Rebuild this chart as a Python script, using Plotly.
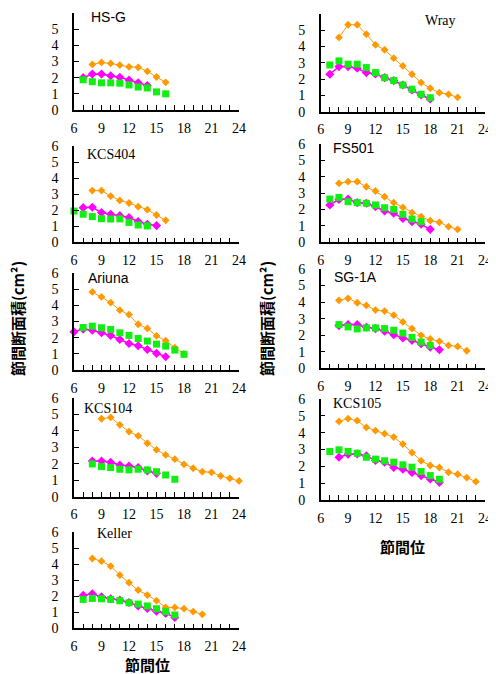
import plotly.graph_objects as go

# ---------------- data (節間位 start + 節間断面積 values) ----------------
X_TICK_VALS = [6, 9, 12, 15, 18, 21, 24]
X_TICK_TEXT = ["6", "9", "12", "15", "18", "21", "24"]
Y_TICK_VALS = [0, 1, 2, 3, 4, 5, 6]

PANEL_NAMES = ["HS-G", "KCS404", "Ariuna", "KCS104", "Keller",
               "Wray", "FS501", "SG-1A", "KCS105"]

hsg_orange_start = 8
hsg_orange = [2.82, 2.94, 2.88, 2.78, 2.67, 2.64, 2.39, 2.04, 1.71]
hsg_magenta_start = 7
hsg_magenta = [2.0, 2.22, 2.22, 2.12, 2.02, 1.85, 1.69, 1.52]
hsg_green_start = 7
hsg_green = [1.87, 1.75, 1.68, 1.68, 1.66, 1.55, 1.42, 1.36, 1.12, 1.0]

kcs404_orange_start = 8
kcs404_orange = [3.22, 3.22, 2.88, 2.61, 2.45, 2.22, 2.03, 1.70, 1.37]
kcs404_magenta_start = 7
kcs404_magenta = [2.16, 2.18, 1.85, 1.74, 1.66, 1.54, 1.29, 1.12, 1.04]
kcs404_green_start = 6
kcs404_green = [1.95, 1.75, 1.60, 1.47, 1.45, 1.46, 1.24, 1.08, 1.02]

ariuna_orange_start = 8
ariuna_orange = [4.83, 4.52, 4.17, 3.70, 3.43, 2.83, 2.57, 2.11, 1.81, 1.38, 0.99]
ariuna_magenta_start = 6
ariuna_magenta = [2.36, 2.53, 2.46, 2.30, 2.14, 1.89, 1.64, 1.50, 1.27, 1.03, 0.82]
ariuna_green_start = 7
ariuna_green = [2.63, 2.71, 2.61, 2.51, 2.30, 2.14, 1.95, 1.79, 1.60, 1.48, 1.23, 0.97]

kcs104_orange_start = 9
kcs104_orange = [4.74, 4.82, 4.37, 3.96, 3.70, 3.25, 2.85, 2.54, 2.28, 1.97,
                 1.73, 1.52, 1.48, 1.26, 1.12, 0.96]
kcs104_magenta_start = 8
kcs104_magenta = [2.17, 2.17, 2.09, 1.93, 1.87, 1.77, 1.57, 1.42]
kcs104_green_start = 8
kcs104_green = [1.99, 1.83, 1.77, 1.67, 1.63, 1.67, 1.63, 1.52, 1.32, 1.06]

keller_orange_start = 8
keller_orange = [4.35, 4.18, 3.87, 3.31, 2.84, 2.38, 2.07, 1.72, 1.30, 1.30, 1.22, 1.04, 0.87]
keller_magenta_start = 7
keller_magenta = [2.05, 2.15, 1.97, 1.84, 1.76, 1.61, 1.39, 1.24, 1.06, 0.93, 0.68]
keller_green_start = 7
keller_green = [1.80, 1.86, 1.84, 1.80, 1.72, 1.59, 1.51, 1.39, 1.22, 1.04, 0.83]

wray_orange_start = 8
wray_orange = [4.56, 5.34, 5.34, 4.76, 4.11, 3.80, 3.29, 2.81, 2.30, 1.79, 1.44, 1.17, 1.07, 0.88]
wray_magenta_start = 7
wray_magenta = [2.30, 2.77, 2.77, 2.67, 2.40, 2.32, 2.09, 1.91, 1.64, 1.33, 1.03, 0.78]
wray_green_start = 7
wray_green = [2.87, 3.12, 2.92, 2.92, 2.71, 2.40, 2.09, 1.91, 1.64, 1.38, 1.07, 0.86]

fs501_orange_start = 8
fs501_orange = [3.60, 3.70, 3.70, 3.39, 3.13, 2.78, 2.42, 2.13, 1.81, 1.57, 1.32, 1.22, 0.96, 0.79]
fs501_magenta_start = 7
fs501_magenta = [2.28, 2.62, 2.64, 2.42, 2.38, 2.17, 1.91, 1.77, 1.46, 1.26, 1.10, 0.79]
fs501_green_start = 7
fs501_green = [2.64, 2.74, 2.48, 2.42, 2.38, 2.28, 2.11, 2.01, 1.71, 1.42, 1.26]

sg1a_orange_start = 8
sg1a_orange = [4.11, 4.23, 3.96, 3.80, 3.52, 3.46, 3.21, 2.80, 2.40, 1.99,
               1.77, 1.63, 1.38, 1.32, 1.06]
sg1a_magenta_start = 8
sg1a_magenta = [2.58, 2.64, 2.64, 2.48, 2.40, 2.24, 2.03, 1.83, 1.69, 1.48, 1.28, 1.12]
sg1a_green_start = 8
sg1a_green = [2.64, 2.50, 2.38, 2.44, 2.44, 2.40, 2.30, 2.13, 1.87, 1.59, 1.38]

kcs105_orange_start = 8
kcs105_orange = [4.67, 4.83, 4.71, 4.31, 4.12, 3.94, 3.74, 3.32, 2.82, 2.33,
                 2.05, 1.93, 1.65, 1.53, 1.33, 1.09]
kcs105_magenta_start = 8
kcs105_magenta = [2.54, 2.72, 2.74, 2.62, 2.35, 2.25, 1.93, 1.83, 1.63, 1.45, 1.25, 1.05]
kcs105_green_start = 7
kcs105_green = [2.88, 2.98, 2.88, 2.78, 2.54, 2.43, 2.33, 2.25, 2.09, 1.95, 1.69, 1.45, 1.23]

SERIES = {
    "HS-G": [(hsg_orange_start, hsg_orange), (hsg_magenta_start, hsg_magenta), (hsg_green_start, hsg_green)],
    "KCS404": [(kcs404_orange_start, kcs404_orange), (kcs404_magenta_start, kcs404_magenta), (kcs404_green_start, kcs404_green)],
    "Ariuna": [(ariuna_orange_start, ariuna_orange), (ariuna_magenta_start, ariuna_magenta), (ariuna_green_start, ariuna_green)],
    "KCS104": [(kcs104_orange_start, kcs104_orange), (kcs104_magenta_start, kcs104_magenta), (kcs104_green_start, kcs104_green)],
    "Keller": [(keller_orange_start, keller_orange), (keller_magenta_start, keller_magenta), (keller_green_start, keller_green)],
    "Wray": [(wray_orange_start, wray_orange), (wray_magenta_start, wray_magenta), (wray_green_start, wray_green)],
    "FS501": [(fs501_orange_start, fs501_orange), (fs501_magenta_start, fs501_magenta), (fs501_green_start, fs501_green)],
    "SG-1A": [(sg1a_orange_start, sg1a_orange), (sg1a_magenta_start, sg1a_magenta), (sg1a_green_start, sg1a_green)],
    "KCS105": [(kcs105_orange_start, kcs105_orange), (kcs105_magenta_start, kcs105_magenta), (kcs105_green_start, kcs105_green)],
}

# ---------------- layout / style ----------------
# The page body adds an 8px margin, so the figure is drawn 8px smaller and
# all pixel targets are shifted by that offset.
OFF = 8
W, H = 496 - OFF, 674 - OFF
ORANGE, MAGENTA, GREEN = "#FF9900", "#FF00FF", "#11EE11"
SERIF = "Liberation Serif"
SANS = "Liberation Sans"
CJK = "Noto Sans CJK JP"


def px_x(px):
    return (px - OFF) / W


def px_y(py):
    return 1 - (py - OFF) / H


LEFT_X = (74, 239)
RIGHT_X = (320.7, 485)
# (x pixel span, y bottom px, y top px, label x px, label y px, label anchor, label font)
GEOM = {
    "HS-G":   (LEFT_X, 110.0, 13.0, 89, 17, "left", SANS),
    "KCS404": (LEFT_X, 242.3, 146.0, 85, 155, "left", SERIF),
    "Ariuna": (LEFT_X, 370.0, 273.0, 86, 278, "left", SANS),
    "KCS104": (LEFT_X, 496.7, 398.0, 82, 408, "left", SERIF),
    "Keller": (LEFT_X, 628.3, 532.0, 95, 533, "left", SERIF),
    "Wray":   (RIGHT_X, 111.7, 14.0, 458, 21, "right", SERIF),
    "FS501":  (RIGHT_X, 242.3, 144.0, 331, 148, "left", SANS),
    "SG-1A":  (RIGHT_X, 368.3, 269.0, 332, 277, "left", SANS),
    "KCS105": (RIGHT_X, 500.0, 399.0, 331, 403, "left", SERIF),
}

fig = go.Figure()
layout = dict(
    width=W, height=H,
    margin=dict(l=0, r=0, t=0, b=0, autoexpand=False),
    paper_bgcolor="white", plot_bgcolor="white",
    showlegend=False,
    annotations=[],
)

styles = [
    dict(color=ORANGE, symbol="diamond", size=6, mode="lines+markers", lw=1.0),
    dict(color=MAGENTA, symbol="diamond", size=7, mode="lines+markers", lw=1.6),
    dict(color=GREEN, symbol="square", size=7, mode="markers", lw=0),
]

for i, name in enumerate(PANEL_NAMES):
    idx = i + 1
    xs = "" if idx == 1 else str(idx)
    (x0, x1), yb, yt, lx, ly, lanchor, lfont = GEOM[name]
    xd = [px_x(x0), px_x(x1)]
    yd = [px_y(yb), px_y(yt)]
    layout["xaxis" + xs] = dict(
        domain=xd, anchor="y" + xs, range=[6, 24], automargin=False,
        tickmode="array", tickvals=X_TICK_VALS, ticktext=X_TICK_TEXT,
        ticks="inside", ticklen=5, tickwidth=1.2, tickcolor="black",
        minor=dict(dtick=1, ticks="inside", ticklen=5, tickwidth=1.2, tickcolor="black"),
        showline=True, linecolor="black", linewidth=1.5,
        showgrid=False, zeroline=False,
        tickfont=dict(family=SERIF, size=14, color="black"),
        ticklabelstandoff=4,
    )
    layout["yaxis" + xs] = dict(
        domain=yd, anchor="x" + xs, range=[0, 6], automargin=False,
        tickmode="array", tickvals=Y_TICK_VALS,
        ticks="inside", ticklen=5, tickwidth=1.2, tickcolor="black",
        showline=True, linecolor="black", linewidth=1.5,
        showgrid=False, zeroline=False,
        tickfont=dict(family=SERIF, size=14, color="black"),
        ticklabelstandoff=11,
    )
    for (start, vals), st in zip(SERIES[name], styles):
        xv = list(range(start, start + len(vals)))
        fig.add_trace(go.Scatter(
            x=xv, y=vals, mode=st["mode"],
            xaxis="x" + xs, yaxis="y" + xs,
            line=dict(color=st["color"], width=st["lw"]),
            marker=dict(symbol=st["symbol"], size=st["size"], color=st["color"]),
            cliponaxis=False, hoverinfo="x+y",
        ))
    layout["annotations"].append(dict(
        text=name, xref="paper", yref="paper",
        x=px_x(lx), y=px_y(ly), xanchor=lanchor, yanchor="middle",
        showarrow=False, font=dict(family=lfont, size=14, color="black"),
    ))

# axis titles
YTITLE = "節間断面積(cm²)"
XTITLE = "節間位"
for xpx in (17, 266):
    layout["annotations"].append(dict(
        text="<b>" + YTITLE + "</b>", xref="paper", yref="paper", x=px_x(xpx), y=px_y(319),
        xanchor="center", yanchor="middle", textangle=-90, showarrow=False,
        font=dict(family=CJK, size=15, color="black"),
    ))
for xpx, ypx in ((147, 664), (402, 546)):
    layout["annotations"].append(dict(
        text="<b>" + XTITLE + "</b>", xref="paper", yref="paper", x=px_x(xpx), y=px_y(ypx),
        xanchor="center", yanchor="middle", showarrow=False,
        font=dict(family=CJK, size=15, color="black"),
    ))

fig.update_layout(**layout)
fig.write_html("out.html")
